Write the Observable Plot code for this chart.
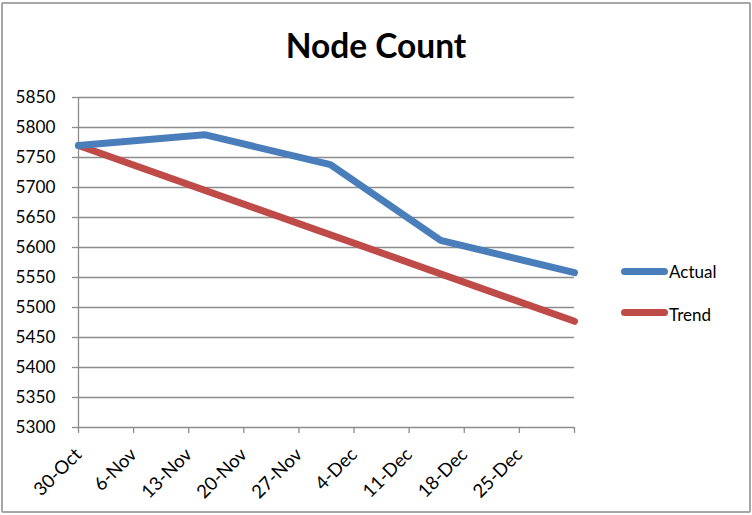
<!DOCTYPE html>
<html><head><meta charset="utf-8">
<script src="https://cdn.jsdelivr.net/npm/d3@7"></script>
<script src="https://cdn.jsdelivr.net/npm/@observablehq/plot@0.6"></script>
<style>
body{margin:0;background:#fff;font-family:Lato,sans-serif}
#wrap{position:relative;width:752px;height:515px;overflow:hidden}
#frame{position:absolute;left:1px;top:2px;width:746px;height:507px;border:2px solid #a6a6a6;border-radius:2px;pointer-events:none}
#title{position:absolute;left:0;width:752px;top:29px;text-align:center;font-weight:bold;font-size:33.5px;line-height:1}
.lg{position:absolute;font-size:17px;line-height:1;color:#000}
.sw{position:absolute;height:7px;border-radius:4px;width:47px}
#chart{position:absolute;left:0;top:0}
</style></head>
<body>
<div id="wrap">
  <div id="chart"></div>
  <div id="title">Node Count</div>
  <div class="sw" id="sw0" style="left:621px;top:267.5px"></div>
  <div class="lg" id="lg0" style="left:669px;top:263px"></div>
  <div class="sw" id="sw1" style="left:621px;top:309px"></div>
  <div class="lg" id="lg1" style="left:669px;top:306px"></div>
  <div id="frame"></div>
</div>
<script>
const seriesNames = ["Actual", "Trend"];
const seriesColors = ["#4a7ebb", "#be4b48"];
const actualDates = ["2012-10-30", "2012-11-15", "2012-12-01", "2012-12-15", "2013-01-01"];
const actualValues = [5770, 5788, 5738, 5612, 5558];
const trendDates = ["2012-10-30", "2013-01-01"];
const trendValues = [5770, 5477];
const xTickDates = ["2012-10-30", "2012-11-06", "2012-11-13", "2012-11-20", "2012-11-27", "2012-12-04", "2012-12-11", "2012-12-18", "2012-12-25", "2013-01-01"];
const xTickLabels = ["30-Oct", "6-Nov", "13-Nov", "20-Nov", "27-Nov", "4-Dec", "11-Dec", "18-Dec", "25-Dec", ""];
const yTicks = [5300, 5350, 5400, 5450, 5500, 5550, 5600, 5650, 5700, 5750, 5800, 5850];

const parse = s => new Date(s + "T00:00:00Z");
const actual = actualDates.map((d, i) => ({date: parse(d), value: actualValues[i], series: seriesNames[0]}));
const trend = trendDates.map((d, i) => ({date: parse(d), value: trendValues[i], series: seriesNames[1]}));
const tickDates = xTickDates.map(parse);
const labelMap = new Map(tickDates.map((d, i) => [+d, xTickLabels[i]]));

const grid = "#8c8c8c";
const chart = Plot.plot({
  width: 752,
  height: 515,
  marginLeft: 78,
  marginRight: 178,
  marginTop: 97,
  marginBottom: 88,
  style: {fontFamily: "Lato, sans-serif", fontSize: "17.2px", color: "#000", background: "transparent"},
  x: {type: "utc", domain: [tickDates[0], tickDates[tickDates.length - 1]]},
  y: {domain: [5300, 5850]},
  marks: [
    Plot.ruleY(yTicks, {x1: tickDates[0], x2: tickDates[tickDates.length - 1], stroke: grid, strokeWidth: 1.3}),
    Plot.axisY({ticks: yTicks, tickSize: 6, tickPadding: 17, stroke: grid, strokeWidth: 1.3, label: null, tickFormat: d => String(d)}),
    Plot.axisX({ticks: tickDates, tickSize: 6, tickPadding: 18, tickRotate: -45, stroke: grid, strokeWidth: 1.3, label: null, tickFormat: d => labelMap.get(+d) ?? "", fontSize: 18.5}),
    Plot.ruleX([tickDates[0]], {y1: 5300, y2: 5850, stroke: grid, strokeWidth: 1.3}),
    Plot.line(trend, {x: "date", y: "value", stroke: seriesColors[1], strokeWidth: 7, strokeLinecap: "round", strokeLinejoin: "round"}),
    Plot.line(actual, {x: "date", y: "value", stroke: seriesColors[0], strokeWidth: 7, strokeLinecap: "round", strokeLinejoin: "round"})
  ]
});
document.getElementById("chart").appendChild(chart);
seriesNames.forEach((n, i) => {
  document.getElementById("sw" + i).style.background = seriesColors[i];
  document.getElementById("lg" + i).textContent = n;
});
</script>
</body></html>
